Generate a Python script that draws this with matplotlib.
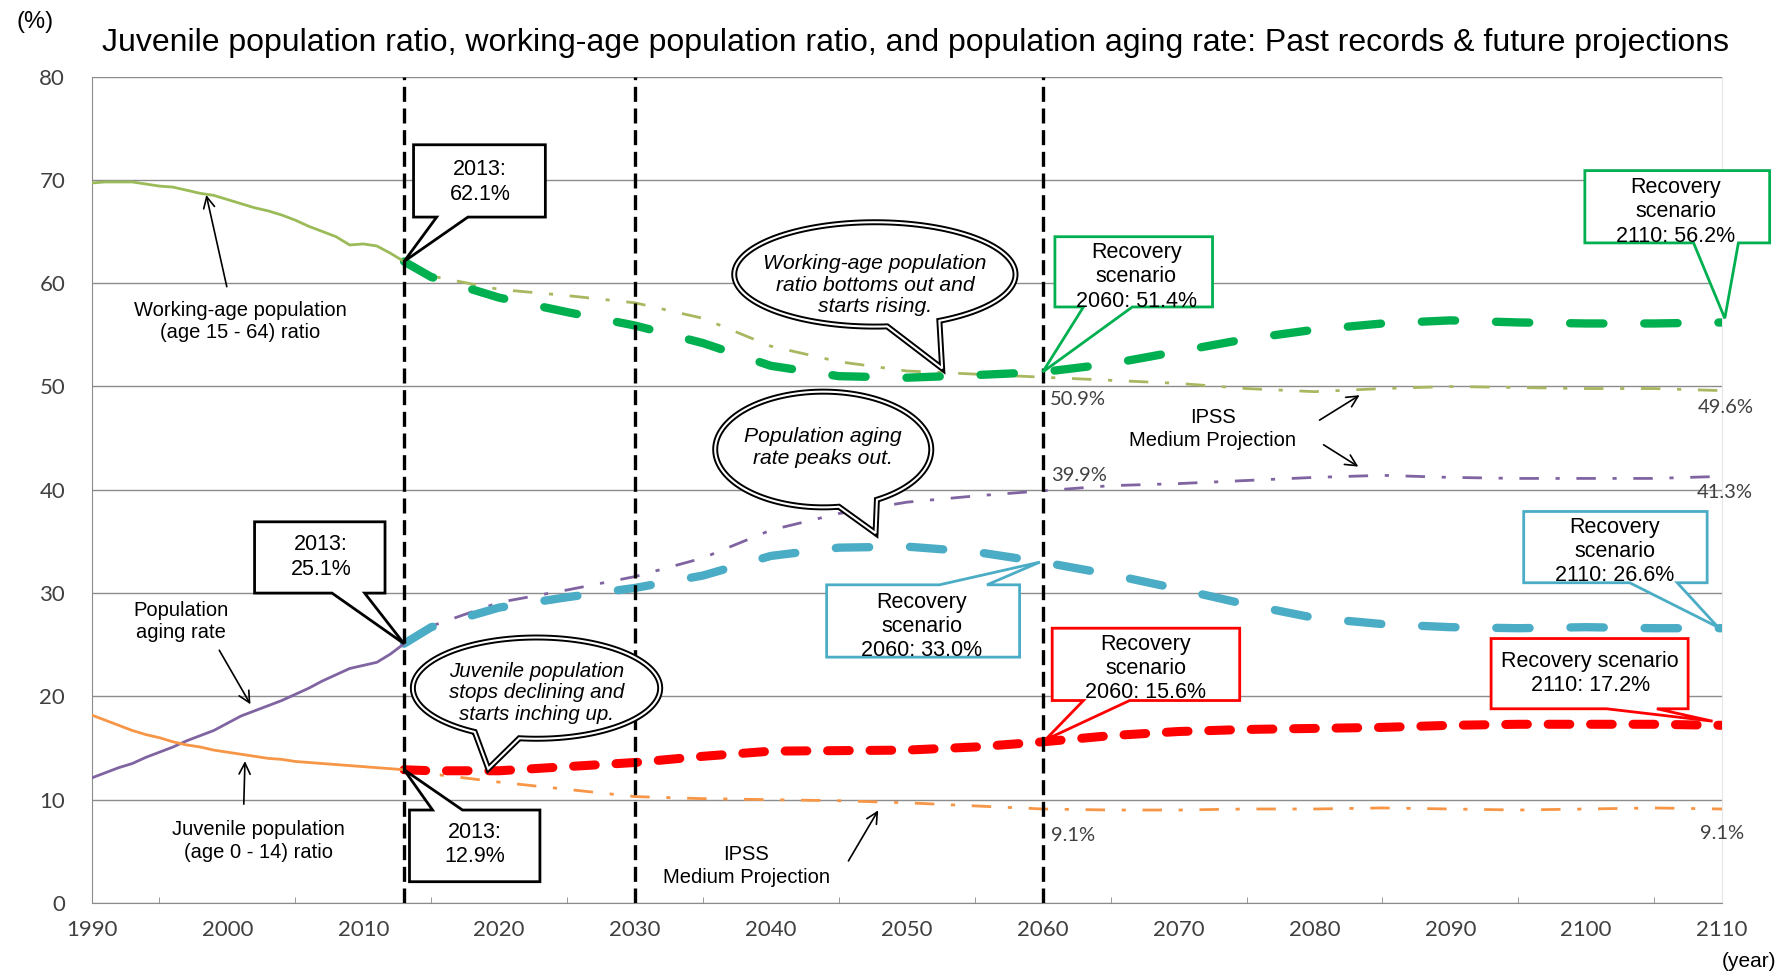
#!/usr/bin/env python3
"""
Juvenile / working-age / aging population ratios: past records and projections.
Recreates the chart with matplotlib and saves it as out.png.
"""

import numpy as np
import matplotlib
matplotlib.use("Agg")
import matplotlib.pyplot as plt
from matplotlib.patches import Polygon

plt.rcParams['font.family'] = ['Liberation Sans', 'DejaVu Sans']

# ---- data -------------------------------------------------------------
hist_years = list(range(1990, 2014))
working_hist = [69.7, 69.8, 69.8, 69.8, 69.6, 69.4, 69.3, 69.0, 68.7, 68.5,
                68.1, 67.7, 67.3, 67.0, 66.6, 66.1, 65.5, 65.0, 64.5, 63.7,
                63.8, 63.6, 62.9, 62.1]
aging_hist = [12.1, 12.6, 13.1, 13.5, 14.1, 14.6, 15.1, 15.7, 16.2, 16.7,
              17.4, 18.1, 18.6, 19.1, 19.6, 20.2, 20.8, 21.5, 22.1, 22.7,
              23.0, 23.3, 24.1, 25.1]
juvenile_hist = [18.2, 17.7, 17.2, 16.7, 16.3, 16.0, 15.6, 15.3, 15.1, 14.8,
                 14.6, 14.4, 14.2, 14.0, 13.9, 13.7, 13.6, 13.5, 13.4, 13.3,
                 13.2, 13.1, 13.0, 12.9]

proj_years = [2013, 2015, 2020, 2025, 2030, 2035, 2040, 2045, 2050, 2055, 2060,
              2065, 2070, 2075, 2080, 2085, 2090, 2095, 2100, 2105, 2110]
# IPSS medium projection
working_ipss = [62.1, 60.7, 59.4, 58.8, 58.1, 56.6, 53.9, 52.4, 51.5, 51.2, 50.9,
                50.6, 50.3, 49.8, 49.5, 49.8, 50.0, 49.9, 49.8, 49.8, 49.6]
aging_ipss = [25.1, 26.8, 29.1, 30.3, 31.6, 33.4, 36.1, 37.7, 38.8, 39.4, 39.9,
              40.4, 40.6, 40.9, 41.2, 41.4, 41.2, 41.1, 41.1, 41.1, 41.3]
juvenile_ipss = [12.9, 12.5, 11.7, 11.0, 10.3, 10.1, 10.0, 9.9, 9.7, 9.4, 9.1,
                 9.0, 9.0, 9.1, 9.1, 9.2, 9.1, 9.0, 9.1, 9.2, 9.1]
# recovery scenario
working_rec = [62.1, 60.6, 58.6, 57.2, 55.9, 54.2, 52.0, 51.0, 50.85, 51.1, 51.4,
               52.2, 53.4, 54.6, 55.5, 56.1, 56.4, 56.2, 56.1, 56.1, 56.2]
aging_rec = [25.1, 26.7, 28.6, 29.6, 30.5, 31.7, 33.6, 34.4, 34.5, 34.0, 33.0,
             31.8, 30.4, 28.9, 27.6, 27.0, 26.7, 26.6, 26.7, 26.6, 26.6]
juvenile_rec = [12.9, 12.8, 12.8, 13.2, 13.6, 14.2, 14.7, 14.75, 14.8, 15.1, 15.6,
                16.2, 16.6, 16.8, 16.9, 17.0, 17.2, 17.3, 17.3, 17.3, 17.2]

marker_years = [2013, 2030, 2060]
y_ticks = [0, 10, 20, 30, 40, 50, 60, 70, 80]
x_ticks = [1990, 2000, 2010, 2020, 2030, 2040, 2050, 2060, 2070, 2080, 2090, 2100, 2110]

TITLE = ("Juvenile population ratio, working-age population ratio, and "
         "population aging rate: Past records & future projections")

C_WORK, C_AGE, C_JUV = '#9BBB59', '#8064A2', '#F79646'
C_WORK_R, C_AGE_R, C_JUV_R = '#00B050', '#4BACC6', '#FF0000'
GRID = '#8C8C8C'
TICK = '#404040'
BOX_FS = 15.5


def callout(ax, x0, x1, y0, y1, base, tip, side, color, lw=2.0):
    """Rectangular callout with a wedge pointing at tip."""
    if side == 'bottom':
        verts = [(x0, y0), (base[0], y0), tip, (base[1], y0), (x1, y0), (x1, y1), (x0, y1)]
    else:
        verts = [(x0, y0), (x1, y0), (x1, y1), (base[1], y1), tip, (base[0], y1), (x0, y1)]
    ax.add_patch(Polygon(verts, closed=True, fc='white', ec=color, lw=lw,
                         joinstyle='miter', zorder=6, clip_on=False))


def bubble(ax, cx, cy, rx, ry, t_left, t_right, tip, text, ty, fs=15.2):
    """Oval speech bubble with a double outline."""
    ts = np.radians(np.linspace(t_right, t_left + 360, 240))
    pts = np.column_stack([cx + rx * np.cos(ts), cy + ry * np.sin(ts)])
    pts = np.vstack([pts, tip])
    ax.add_patch(Polygon(pts, closed=True, fc='white', ec='black', lw=4.3, zorder=6))
    ax.add_patch(Polygon(pts, closed=True, fc='none', ec='white', lw=1.5, zorder=6.1))
    ax.text(cx, ty, text, ha='center', va='center', fontsize=fs, style='italic',
            linespacing=1.18, zorder=7)


def arrow(ax, start, end):
    ax.annotate('', xy=end, xytext=start, zorder=5,
                arrowprops=dict(arrowstyle='->', color='black', lw=1.2, mutation_scale=20))


def main():
    fig = plt.figure(figsize=(17.77, 9.72), dpi=100)
    ax = fig.add_axes([0.0515, 0.071, 0.9176, 0.8502])
    ax.set_xlim(1990, 2110)
    ax.set_ylim(0, 80)

    # grid, spines, ticks
    ax.set_yticks(y_ticks)
    ax.set_xticks(x_ticks)
    ax.set_xticks(list(range(1995, 2110, 10)) + [2110], minor=True)
    ax.yaxis.grid(True, color=GRID, lw=1.0, zorder=0)
    ax.set_axisbelow(True)
    ax.spines['top'].set_visible(False)
    ax.spines['right'].set_color('#E6E6E6')
    ax.spines['left'].set_color(GRID)
    ax.spines['bottom'].set_color(GRID)
    ax.tick_params(axis='y', length=0, pad=19, labelsize=16, labelcolor=TICK)
    ax.tick_params(axis='x', which='major', length=0, pad=12, labelsize=16, labelcolor=TICK)
    ax.tick_params(axis='x', which='minor', direction='in', length=4.5, color=GRID)
    for lab in ax.get_xticklabels() + ax.get_yticklabels():
        lab.set_family(['Lato', 'DejaVu Sans'])

    # IPSS medium projection (thin dash-dot)
    dd = (0, (7.0, 6.0, 1.5, 6.0))
    ax.plot(proj_years, working_ipss, color='#A8B860', lw=2.0, ls=dd, zorder=2)
    ax.plot(proj_years, aging_ipss, color=C_AGE, lw=2.0, ls=dd, zorder=2)
    ax.plot(proj_years, juvenile_ipss, color=C_JUV, lw=2.0, ls=dd, zorder=2)

    # recovery scenario (thick dashed)
    ax.plot(proj_years, working_rec, color=C_WORK_R, lw=6.0, ls=(0, (4.0, 4.9)),
            dash_capstyle='round', zorder=3)
    ax.plot(proj_years, aging_rec, color=C_AGE_R, lw=6.0, ls=(0, (4.0, 4.9)),
            dash_capstyle='round', zorder=3)
    ax.plot(proj_years, juvenile_rec, color=C_JUV_R, lw=6.5, ls=(0, (2.4, 2.3)),
            dash_capstyle='round', zorder=3)

    # past records (solid)
    ax.plot(hist_years, working_hist, color=C_WORK, lw=2.0, zorder=3)
    ax.plot(hist_years, aging_hist, color=C_AGE, lw=2.0, zorder=3)
    ax.plot(hist_years, juvenile_hist, color=C_JUV, lw=2.0, zorder=3)

    # vertical markers
    for yr in marker_years:
        ax.axvline(yr, color='black', lw=2.4, ls=(0, (4.5, 2)), zorder=4)

    # series labels and arrows
    lbl = dict(ha='center', va='center', fontsize=14.5, linespacing=1.25, zorder=5)
    ax.text(2000.95, 56.3, 'Working-age population\n(age 15 - 64) ratio', **lbl)
    arrow(ax, (2000.0, 59.4), (1998.4, 68.8))
    ax.text(1996.6, 27.25, 'Population\naging rate', **lbl)
    arrow(ax, (1999.3, 24.7), (2001.8, 19.0))
    ax.text(2002.3, 6.0, 'Juvenile population\n(age 0 - 14) ratio', **lbl)
    arrow(ax, (2001.2, 9.3), (2001.3, 14.0))

    ax.text(2038.2, 3.55, 'IPSS\nMedium Projection', **lbl)
    arrow(ax, (2045.6, 3.84), (2048.0, 9.2))
    ax.text(2072.5, 45.9, 'IPSS\nMedium Projection', **lbl)
    arrow(ax, (2080.2, 46.6), (2083.5, 49.3))
    arrow(ax, (2080.5, 44.5), (2083.4, 42.1))

    # small value labels
    small = dict(fontsize=14.5, color=TICK, va='center', zorder=5, family=['Lato', 'DejaVu Sans'])
    ax.text(2060.5, 48.7, '50.9%', ha='left', **small)
    ax.text(2060.6, 41.4, '39.9%', ha='left', **small)
    ax.text(2060.6, 6.5, '9.1%', ha='left', **small)
    ax.text(2110.3, 48.0, '49.6%', ha='center', clip_on=False, **small)
    ax.text(2110.2, 39.7, '41.3%', ha='center', clip_on=False, **small)
    ax.text(2110.0, 6.7, '9.1%', ha='center', clip_on=False, **small)

    # 2013 callouts (black)
    box = dict(ha='center', va='center', fontsize=BOX_FS, linespacing=1.2, zorder=7)
    callout(ax, 2013.7, 2023.4, 66.4, 73.4, (2015.4, 2017.7), (2013, 62.1), 'bottom', 'black', 2.0)
    ax.text(2018.6, 69.8, '2013:\n62.1%', **box)
    callout(ax, 2002.0, 2011.6, 30.0, 36.9, (2007.7, 2010.1), (2013, 25.1), 'bottom', 'black', 2.0)
    ax.text(2006.9, 33.5, '2013:\n25.1%', **box)
    callout(ax, 2013.4, 2023.0, 2.06, 9.0, (2015.1, 2017.3), (2013, 12.9), 'top', 'black', 2.0)
    ax.text(2018.2, 5.7, '2013:\n12.9%', **box)

    # recovery scenario callouts
    callout(ax, 2060.9, 2072.5, 57.7, 64.5, (2063.0, 2066.6), (2060, 51.4), 'bottom', C_WORK_R)
    ax.text(2066.9, 60.6, 'Recovery\nscenario\n2060: 51.4%', **box)
    callout(ax, 2044.1, 2058.3, 23.8, 30.8, (2052.4, 2055.9), (2059.8, 33.0), 'top', C_AGE_R)
    ax.text(2051.1, 26.75, 'Recovery\nscenario\n2060: 33.0%', **box)
    callout(ax, 2060.7, 2074.5, 19.6, 26.6, (2063.0, 2066.4), (2060.2, 15.8), 'bottom', C_JUV_R)
    ax.text(2067.6, 22.7, 'Recovery\nscenario\n2060: 15.6%', **box)
    callout(ax, 2099.9, 2113.5, 63.9, 70.9, (2107.9, 2111.2), (2110.2, 56.6), 'bottom', C_WORK_R)
    ax.text(2106.6, 66.9, 'Recovery\nscenario\n2110: 56.2%', clip_on=False, **box)
    callout(ax, 2095.4, 2108.9, 31.0, 37.9, (2103.2, 2106.7), (2109.7, 26.7), 'bottom', C_AGE_R)
    ax.text(2102.1, 34.0, 'Recovery\nscenario\n2110: 26.6%', **box)
    callout(ax, 2093.0, 2107.5, 18.8, 25.6, (2101.5, 2105.2), (2109.3, 17.6), 'bottom', C_JUV_R)
    ax.text(2100.3, 22.2, 'Recovery scenario\n2110: 17.2%', **box)

    # speech bubbles
    bubble(ax, 2047.65, 60.85, 10.35, 5.05, -85, -62.7, (2052.6, 51.75),
           'Working-age population\nratio bottoms out and\nstarts rising.', 59.8)
    bubble(ax, 2043.85, 43.9, 7.95, 5.6, -81.7, -60.2, (2047.7, 35.8),
           'Population aging\nrate peaks out.', 44.1)
    bubble(ax, 2022.75, 20.8, 9.1, 4.9, -120, -98, (2019.2, 13.0),
           'Juvenile population\nstops declining and\nstarts inching up.', 20.35, 14.8)

    # title and unit labels
    fig.text(0.5153, 0.9558, TITLE, ha='center', va='center', fontsize=23)
    fig.text(0.0195, 0.977, '(%)', ha='center', va='center', fontsize=17)
    fig.text(0.9995, 0.0113, '(year)', ha='right', va='center', fontsize=15)

    fig.savefig('out.png', dpi=100)
    plt.close(fig)
    print("Saved out.png")


if __name__ == "__main__":
    main()
